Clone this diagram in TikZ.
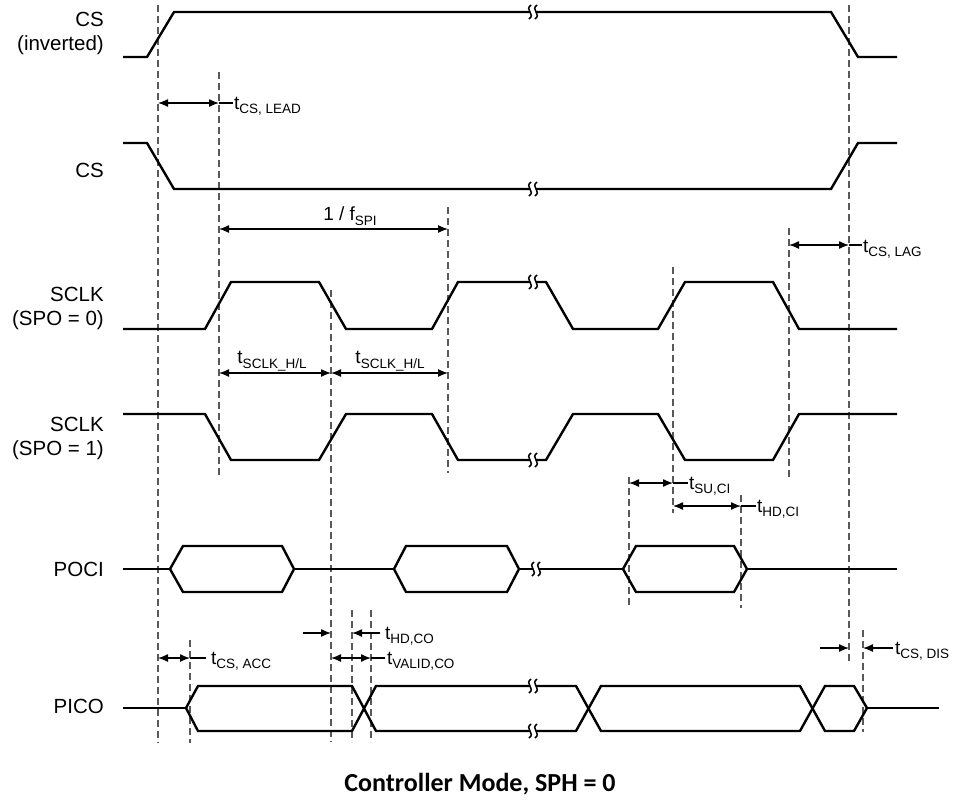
\documentclass[tikz,border=0pt]{standalone}
\usepackage{fontspec}
\setmainfont{Liberation Sans}
\newfontfamily\titlefont{Carlito}
\usetikzlibrary{arrows.meta}
\newcommand\brkmark[2]{%
  \fill[white] (#1-3,#2-3) rectangle (#1+3,#2+3);
  \draw[line width=1.5pt] (#1-2,#2-7) .. controls (#1-9,#2-2) and (#1+3,#2+2) .. (#1-4,#2+7);
  \draw[line width=1.5pt] (#1+4,#2-7) .. controls (#1-3,#2-2) and (#1+9,#2+2) .. (#1+2,#2+7);
}
\newcommand\tlab[1]{{\fontsize{19}{19}\selectfont t}\raisebox{-4.5pt}{\fontsize{13.5}{13.5}\selectfont #1}}
\begin{document}
\begin{tikzpicture}[x=1pt,y=-1pt,
  wave/.style={line width=2.4pt, line join=miter},
  guide/.style={draw=black!65, line width=1.4pt, dash pattern=on 7pt off 4pt},
  dimline/.style={line width=1.3pt},
  both/.style={dimline, {Latex[length=10pt,width=8pt]}-{Latex[length=10pt,width=8pt]}},
  toright/.style={dimline, -{Latex[length=10pt,width=8pt]}},
  sig/.style={anchor=east, inner sep=0pt, font=\fontsize{20.5}{22}\selectfont},
  tl/.style={anchor=west, inner sep=0pt},
]
\useasboundingbox (0,0) rectangle (954,801);

% guide lines
\coordinate (g1a) at (158,5);   \coordinate (g1b) at (158,743);
\coordinate (g2a) at (219,72);  \coordinate (g2b) at (219,477);
\coordinate (g3a) at (448,207); \coordinate (g3b) at (448,473);
\coordinate (g4a) at (331,290); \coordinate (g4b) at (331,742);
\coordinate (g5a) at (673,267); \coordinate (g5b) at (673,513);
\coordinate (g6a) at (789,228); \coordinate (g6b) at (789,477);
\coordinate (g7a) at (629,477); \coordinate (g7b) at (629,608);
\coordinate (g8a) at (741,495); \coordinate (g8b) at (741,608);
\coordinate (g9a) at (849,5);   \coordinate (g9b) at (849,662);
\coordinate (g10a) at (863,630); \coordinate (g10b) at (863,732);
\coordinate (g11a) at (190,640); \coordinate (g11b) at (190,743);
\coordinate (g12a) at (352,610); \coordinate (g12b) at (352,742);
\coordinate (g13a) at (371,610); \coordinate (g13b) at (371,742);
\foreach \g in {1,...,13} \draw[guide] (g\g a) -- (g\g b);

% signal names
\node[sig] (n1) at (104,19) {CS};
\node[sig] (n2) at (104,45) {(inverted)};
\node[sig] (n3) at (104,170) {CS};
\node[sig] (n4) at (104,294) {SCLK};
\node[sig] (n5) at (104,320) {(SPO = 0)};
\node[sig] (n6) at (104,424) {SCLK};
\node[sig] (n7) at (104,450) {(SPO = 1)};
\node[sig] (n8) at (104,569) {POCI};
\node[sig] (n9) at (104,706) {PICO};

% CS inverted
\draw[wave] (123,57)--(147,57)--(174,12)--(831,12)--(858,57)--(897,57);
\brkmark{533}{12}
% CS
\draw[wave] (123,143)--(147,143)--(174,189)--(831,189)--(858,143)--(897,143);
\brkmark{533}{189}
% SCLK SPO=0
\draw[wave] (123,329)--(205,329)--(231,282)--(319,282)--(346,329)--(432,329)--(458,282)--(546,282)--(573,329)--(658,329)--(685,282)--(773,282)--(799,329)--(897,329);
\brkmark{533}{282}
% SCLK SPO=1
\draw[wave] (123,414)--(205,414)--(231,460)--(319,460)--(346,414)--(432,414)--(458,460)--(546,460)--(573,414)--(658,414)--(685,460)--(773,460)--(799,414)--(897,414);
\brkmark{533}{460}
% POCI
\draw[wave] (123,569)--(170,569) (294,569)--(394,569) (519,569)--(623,569) (747,569)--(897,569);
\draw[wave] (170,569)--(183,546)--(282,546)--(294,569)--(282,592)--(183,592)--cycle;
\draw[wave] (394,569)--(406,546)--(507,546)--(519,569)--(507,592)--(406,592)--cycle;
\draw[wave] (623,569)--(636,546)--(734,546)--(747,569)--(734,592)--(636,592)--cycle;
\brkmark{536}{569}
% PICO
\draw[wave] (123,708)--(186,708) (867,708)--(939,708);
\draw[wave] (186,708)--(198,686)--(352,686)--(376,731)--(576,731)--(601,686)--(800,686)--(825,731)--(854,731)--(867,708);
\draw[wave] (186,708)--(198,731)--(352,731)--(376,686)--(576,686)--(601,731)--(800,731)--(825,686)--(854,686)--(867,708);
\brkmark{533}{686}
\brkmark{533}{731}

% timing annotations
\draw[both] (158,103) -- (219,103);
\draw[dimline] (219,103) -- (233,103);
\node[tl] (l1) at (234,106) {\tlab{CS, LEAD}};

\draw[both] (219,229) -- (448,229);
\node[inner sep=0pt] (l2) at (350,216) {\fontsize{19}{19}\selectfont 1 / f\raisebox{-4.5pt}{\fontsize{13.5}{13.5}\selectfont SPI}};

\draw[both] (789,245) -- (849,245);
\draw[dimline] (849,245) -- (862,245);
\node[tl] (l3) at (863,249) {\tlab{CS, LAG}};

\draw[both] (219,373) -- (331,373);
\draw[both] (331,373) -- (448,373);
\node[inner sep=0pt] (l4) at (272,361) {\tlab{SCLK\_H/L}};
\node[inner sep=0pt] (l5) at (390,361) {\tlab{SCLK\_H/L}};

\draw[both] (629,483) -- (673,483);
\draw[dimline] (673,483) -- (688,483);
\node[tl] (l6) at (689,486) {\tlab{SU,CI}};

\draw[both] (673,506) -- (741,506);
\draw[dimline] (741,506) -- (756,506);
\node[tl] (l7) at (757,509) {\tlab{HD,CI}};

\draw[both] (158,658) -- (190,658);
\draw[dimline] (190,658) -- (206,658);
\node[tl] (l8) at (211,661) {\tlab{CS, ACC}};

\draw[toright] (303,633) -- (331,633);
\draw[toright] (380,633) -- (352,633);
\node[tl] (l9) at (385,636) {\tlab{HD,CO}};

\draw[both] (331,658) -- (371,658);
\draw[dimline] (371,658) -- (385,658);
\node[tl] (l10) at (387,661) {\tlab{VALID,CO}};

\draw[toright] (820,648) -- (849,648);
\draw[toright] (893,648) -- (863,648);
\node[tl] (l11) at (895,651) {\tlab{CS, DIS}};

% title
\node[inner sep=0pt] (title) at (480,784) {\titlefont\bfseries\fontsize{26}{26}\selectfont Controller Mode, SPH = 0};
\end{tikzpicture}
\end{document}
